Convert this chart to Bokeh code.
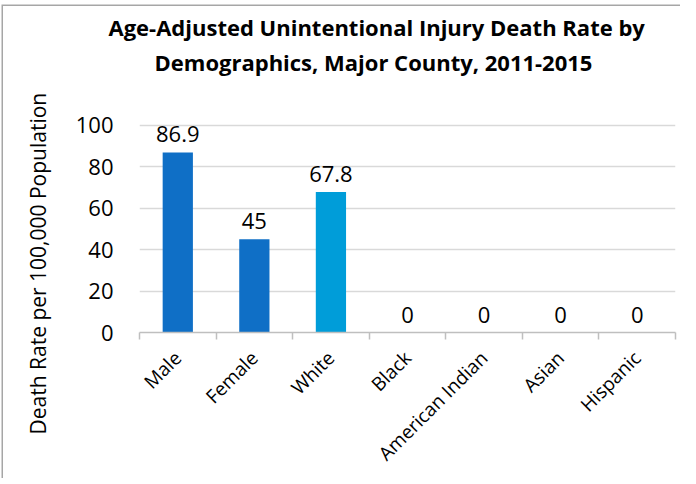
import math
from bokeh.plotting import figure
from bokeh.models import Range1d, FixedTicker, Title, ColumnDataSource
from bokeh.core.properties import value
from bokeh.embed import file_html
from bokeh.resources import INLINE

categories = ["Male", "Female", "White", "Black", "American Indian", "Asian", "Hispanic"]
rates = [86.9, 45, 67.8, 0, 0, 0, 0]
bar_colors = ["#0F6FC6", "#0F6FC6", "#009DD9", "#009DD9", "#009DD9", "#009DD9", "#009DD9"]
y_ticks = [0, 20, 40, 60, 80, 100]
title_lines = ["Age-Adjusted Unintentional Injury Death Rate by",
               "Demographics, Major County, 2011-2015"]
y_label = "Death Rate per 100,000 Population"

FONT = "Open Sans"

positions = [i + 0.5 for i in range(len(categories))]
labels = [f"{v:g}" for v in rates]
src = ColumnDataSource(dict(x=positions, top=rates, color=bar_colors, label=labels))

p = figure(width=680, height=478, output_backend="svg", toolbar_location=None,
           x_range=Range1d(0, len(categories)), y_range=Range1d(0, 116.8),
           min_border_left=138, min_border_right=5, min_border_top=90, min_border_bottom=145)
p.outline_line_color = None
p.background_fill_color = "white"
p.border_fill_color = None
p.styles = {"box-shadow": "inset 1.5px 4.5px 0 #ffffff, inset 3px 6px 0 #A6A6A6",
            "background-color": "#ffffff"}

p.vbar(x="x", top="top", width=0.395, fill_color="color", line_color=None, source=src)
p.text(x="x", y="top", text="label", source=src, text_align="center",
       text_baseline="alphabetic", y_offset=-18, text_font=value(FONT),
       text_font_size="22px", text_color="#000000")

xa = p.xaxis[0]
xa.ticker = FixedTicker(ticks=positions, minor_ticks=list(range(len(categories) + 1)))
xa.major_label_overrides = {pos: cat for pos, cat in zip(positions, categories)}
xa.major_tick_line_color = None
xa.major_tick_out = 0
xa.major_tick_in = 0
xa.minor_tick_in = 0
xa.minor_tick_out = 7
xa.minor_tick_line_color = "#BFBFBF"
xa.minor_tick_line_width = 1.5
xa.axis_line_color = "#BFBFBF"
xa.axis_line_width = 1.5
xa.major_label_orientation = math.pi / 4
xa.major_label_standoff = 15
xa.major_label_text_font = FONT
xa.major_label_text_font_size = "19px"
xa.major_label_text_color = "#000000"

ya = p.yaxis[0]
ya.ticker = FixedTicker(ticks=y_ticks)
ya.axis_line_color = None
ya.major_tick_line_color = None
ya.minor_tick_line_color = None
ya.major_tick_out = 0
ya.minor_tick_out = 0
ya.major_label_standoff = 26
ya.major_label_text_font = FONT
ya.major_label_text_font_size = "22px"
ya.major_label_text_color = "#000000"

p.ygrid.grid_line_color = "#D9D9D9"
p.ygrid.grid_line_width = 1.5
p.xgrid.grid_line_color = None

# small spacer between the frame and the title block
p.add_layout(Title(text=" ", standoff=9, text_font_size="1px"), "above")
# title: second line added first so it sits next to the frame
p.add_layout(Title(text=title_lines[1], align="left", offset=15, standoff=3,
                   text_font=FONT, text_font_style="bold", text_font_size="22px",
                   text_color="#000000"), "above")
p.add_layout(Title(text=title_lines[0], align="left", offset=-31, standoff=3,
                   text_font=FONT, text_font_style="bold", text_font_size="22px",
                   text_color="#000000"), "above")

p.add_layout(Title(text=y_label, align="left", offset=-102, standoff=42,
                   text_font=FONT, text_font_style="normal", text_font_size="21px",
                   text_color="#000000"), "left")

open("out.html", "w").write(file_html(p, INLINE))
